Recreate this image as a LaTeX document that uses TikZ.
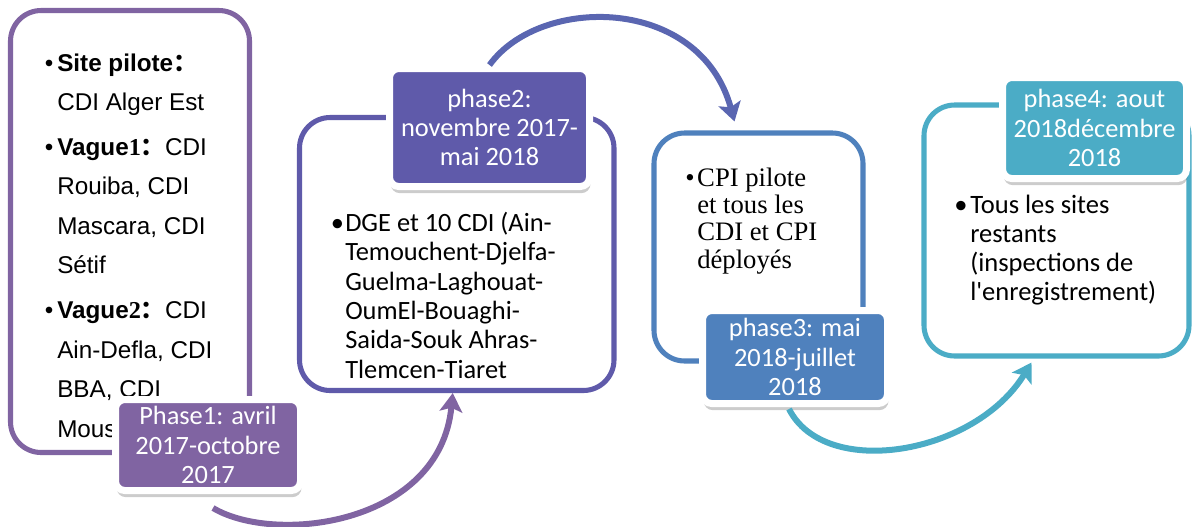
\documentclass[tikz,border=0pt]{standalone}
\usepackage{fontspec}
\setmainfont{Liberation Sans}
\newfontfamily\calib{Carlito}
\newfontfamily\tnr{Liberation Serif}
\newfontfamily\cjk{Noto Sans CJK SC}
\usetikzlibrary{arrows.meta,calc,fit,shadows}
\definecolor{PhOne}{HTML}{8064A2}
\definecolor{PhTwo}{HTML}{5F5AAA}
\definecolor{PhTwoArr}{HTML}{5A66B1}
\definecolor{PhThree}{HTML}{4F81BD}
\definecolor{PhFour}{HTML}{4BACC6}
\tikzset{
  frm/.style={rectangle, rounded corners=23pt, line width=3.8pt, draw=#1, fill=white,
              inner sep=0pt},
  tag/.style={rectangle, rounded corners=7pt, line width=5.25pt, draw=white, fill=#1,
              text=white, align=center, inner sep=0pt,
              font=\calib\fontsize{19.8}{22}\selectfont,
              drop shadow={shadow xshift=0.8pt, shadow yshift=-5pt, opacity=0.2, fill=black}},
  % anchored on the baseline of the last line
  bul/.style={anchor=base west, align=left, inner sep=0pt},
  swing/.style={-{Stealth[length=14pt,width=17pt,inset=3pt]}, line width=4.5pt, draw=#1},
}

\begin{document}
\begin{tikzpicture}[x=0.75pt,y=-0.75pt]
\useasboundingbox (0,0) rectangle (1192,526);

% ---------------- frames ------------------------------------------------------
\node[frm=PhOne, fit={(10.5,10.5) (249.5,452.5)}] (ph1) {};
\node[frm=PhTwo, fit={(299.5,117.5) (614,390.5)}] (ph2) {};
\node[frm=PhThree, fit={(654,133) (863,361)}] (ph3) {};
\node[frm=PhFour, fit={(924,105) (1189,356)}] (ph4) {};

% ---------------- frame texts ---------------------------------------------------
\node[bul, font=\fontsize{18.2}{29.6}\selectfont] (txt1) at (57,437)
  {\llap{\textbullet\hspace{3pt}}\textbf{Site pilote{\cjk ：}}\\
   CDI Alger Est\\[4pt]
   \llap{\textbullet\hspace{3pt}}\textbf{Vague{\tnr 1}{\cjk ：}}CDI\\
   Rouiba, CDI\\ Mascara, CDI\\ Sétif\\[4pt]
   \llap{\textbullet\hspace{3pt}}\textbf{Vague{\tnr 2}{\cjk ：}}CDI\\
   Ain-Defla, CDI\\ BBA, CDI\\ Mous};
\node[bul, font=\calib\fontsize{19.8}{22}\selectfont] (txt2) at (345,378)
  {\llap{\textbullet\hspace{1pt}}DGE et 10 CDI (Ain-\\Temouchent-Djelfa-\\Guelma-Laghouat-\\
   OumEl-Bouaghi-\\Saida-Souk Ahras-\\Tlemcen-Tiaret};
\node[bul, font=\tnr\fontsize{20}{20.5}\selectfont] (txt3) at (697,268)
  {\llap{\textbullet\hspace{2pt}}CPI pilote\\et tous les\\CDI et CPI\\déployés};
\node[bul, font=\calib\fontsize{19.9}{21.7}\selectfont] (txt4) at (970,300)
  {\llap{\textbullet\hspace{2pt}}Tous les sites\\restants\\(inspections de\\l'enregistrement)};

% ---------------- phase tags ------------------------------------------------------
\node[tag=PhOne, minimum width=138.75pt, minimum height=68.25pt] (lab1) at (208,445)
  {Phase1: avril\\2017-octobre\\2017};
\node[tag=PhTwo, minimum width=150pt, minimum height=88.5pt] (lab2) at (489.5,127.5)
  {phase2:\\novembre 2017-\\mai 2018};
\node[tag=PhThree, minimum width=138.75pt, minimum height=69.75pt] (lab3) at (795,357)
  {phase3: mai\\2018-juillet\\2018};
\node[tag=PhFour, minimum width=138pt, minimum height=75.75pt] (lab4) at (1094.5,128)
  {phase4: aout\\2018décembre\\2018};

% ---------------- curved arrows ---------------------------------------------------
\draw[swing=PhOne] ($(lab1.south)+(5,14)$) .. controls (275,545) and (440,525) .. ($(ph2.south)+(-4,0)$);
\draw[swing=PhTwoArr] (lab2.north) .. controls (540,-5) and (700,-5) .. ($(ph3.north)+(-24,-9)$);
\draw[swing=PhFour] ($(lab3.south)+(-6,2)$) .. controls (825,480) and (975,455) .. ($(ph4.south)+(-25,4)$);

\end{tikzpicture}
\end{document}
